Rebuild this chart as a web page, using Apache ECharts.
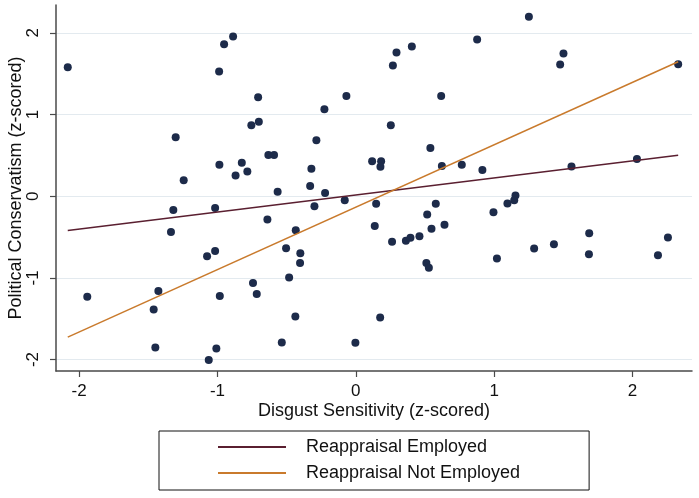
<!DOCTYPE html>
<html>
<head>
<meta charset="utf-8">
<script src="https://cdn.jsdelivr.net/npm/echarts@6/dist/echarts.min.js"></script>
<style>
html,body{margin:0;padding:0;background:#fff;}
#chart{width:699px;height:498px;}
</style>
</head>
<body>
<div id="chart"></div>
<script>
// Scatter points: Disgust Sensitivity (x) vs Political Conservatism (y)
const disgustX = [
  -2.082, -0.887, -0.952, -0.988, -1.302, -0.986, -0.824, -1.244, -0.869, -0.706,
  -0.755, -0.701, -0.632, -0.591, -0.784, -0.565, -0.285, -0.227, -0.068, -0.321,
  -0.330, -0.222, -0.080, 0.268, 0.294, 0.405, 0.253, 0.118, 0.183, 0.178,
  0.539, 0.617, 0.622, 0.766, 1.251, 0.877, 1.501, 1.477, 2.330, 0.915,
  1.559, 2.032, 1.154, 1.145, -1.941, -1.319, -1.017, -1.336, -1.017, -1.075,
  -1.427, -1.461, -0.983, -1.449, -1.008, -1.063, -0.299, -0.639, -0.434, -0.504,
  -0.401, -0.403, -0.482, -0.743, -0.716, -0.437, -0.535, -0.003, 0.147, 0.137,
  0.176, 0.262, 0.362, 0.395, 0.460, 0.516, 0.578, 0.547, 0.641, 0.510,
  0.528, 0.995, 1.096, 1.020, 1.289, 1.432, 1.687, 1.685, 2.184, 2.256
];
const conservatismY = [
  1.579, 1.955, 1.861, 1.525, 0.720, 0.384, 0.409, 0.196, 0.252, 1.211,
  0.867, 0.912, 0.503, 0.503, 0.303, 0.053, 0.683, 1.064, 1.227, 0.337,
  0.123, 0.040, -0.049, 1.599, 1.758, 1.832, 0.867, 0.426, 0.426, 0.360,
  0.589, 1.227, 0.368, 0.384, 2.196, 1.918, 1.746, 1.611, 1.616, 0.319,
  0.364, 0.454, 0.009, -0.049, -1.231, -0.168, -0.144, -0.438, -0.671, -0.736,
  -1.162, -1.387, -1.223, -1.853, -1.865, -2.004, -0.123, -0.286, -0.417, -0.638,
  -0.699, -0.818, -0.994, -1.064, -1.199, -1.472, -1.791, -1.795, -0.092, -0.364,
  -1.485, -0.558, -0.546, -0.509, -0.491, -0.225, -0.092, -0.399, -0.350, -0.818,
  -0.875, -0.196, -0.090, -0.764, -0.642, -0.589, -0.454, -0.712, -0.724, -0.507
];
// Fitted lines (endpoints over data range)
const fitX = [-2.082, 2.330];
const employedY = [-0.42, 0.50];
const notEmployedY = [-1.725, 1.645];
const seriesNames = ['Reappraisal Employed', 'Reappraisal Not Employed'];
const tickValues = [-2, -1, 0, 1, 2];

const points = disgustX.map((x, i) => [x, conservatismY[i]]);
const employedLine = fitX.map((x, i) => [x, employedY[i]]);
const notEmployedLine = fitX.map((x, i) => [x, notEmployedY[i]]);

const FONT = 'Liberation Sans, Arial, sans-serif';
const axisColor = '#4a4a4a';

const chart = echarts.init(document.getElementById('chart'), null, {renderer: 'canvas'});
chart.setOption({
  backgroundColor: '#ffffff',
  animation: false,
  grid: {left: 56, right: 7, top: 5, bottom: 127, containLabel: false, outerBoundsMode: 'none'},
  xAxis: {
    type: 'value',
    min: -2.167, max: 2.43,
    name: 'Disgust Sensitivity (z-scored)',
    nameLocation: 'middle',
    nameGap: 31,
    nameMoveOverlap: false,
    nameTextStyle: {fontFamily: FONT, fontSize: 18, color: '#111'},
    axisLine: {show: true, onZero: false, lineStyle: {color: axisColor, width: 1.5}},
    axisTick: {show: true, length: 6, customValues: tickValues, lineStyle: {color: axisColor, width: 1.2}},
    axisLabel: {customValues: tickValues, fontFamily: FONT, fontSize: 17, color: '#111', margin: 12},
    splitLine: {show: false}
  },
  yAxis: {
    type: 'value',
    min: -2.14, max: 2.34,
    name: 'Political Conservatism (z-scored)',
    nameLocation: 'middle',
    nameGap: 31,
    nameMoveOverlap: false,
    nameTextStyle: {fontFamily: FONT, fontSize: 18, color: '#111'},
    axisLine: {show: true, onZero: false, lineStyle: {color: axisColor, width: 1.5}},
    axisTick: {show: true, length: 6, customValues: tickValues, lineStyle: {color: axisColor, width: 1.2}},
    axisLabel: {customValues: tickValues, rotate: 90, fontFamily: FONT, fontSize: 17, color: '#111', margin: 14},
    splitLine: {show: true, lineStyle: {color: '#e3eaef', width: 1.2}}
  },
  legend: {
    data: seriesNames,
    orient: 'vertical',
    left: 159, top: 431,
    padding: [7, 69, 8, 59],
    itemGap: 8,
    itemWidth: 68,
    itemHeight: 2,
    icon: 'rect',
    borderColor: '#111',
    borderWidth: 1,
    borderRadius: 0,
    textStyle: {fontFamily: FONT, fontSize: 18, color: '#111', padding: [0, 0, 0, 15]}
  },
  series: [
    {
      type: 'scatter',
      data: points,
      symbol: 'circle',
      symbolSize: 8,
      itemStyle: {color: '#1d2b4a', opacity: 1},
      z: 2
    },
    {
      name: seriesNames[0],
      type: 'line',
      data: employedLine,
      symbol: 'none',
      lineStyle: {color: '#5a1f30', width: 1.5},
      itemStyle: {color: '#5a1f30'},
      z: 3
    },
    {
      name: seriesNames[1],
      type: 'line',
      data: notEmployedLine,
      symbol: 'none',
      lineStyle: {color: '#c97a2c', width: 1.5},
      itemStyle: {color: '#c97a2c'},
      z: 3
    }
  ]
});
</script>
</body>
</html>
